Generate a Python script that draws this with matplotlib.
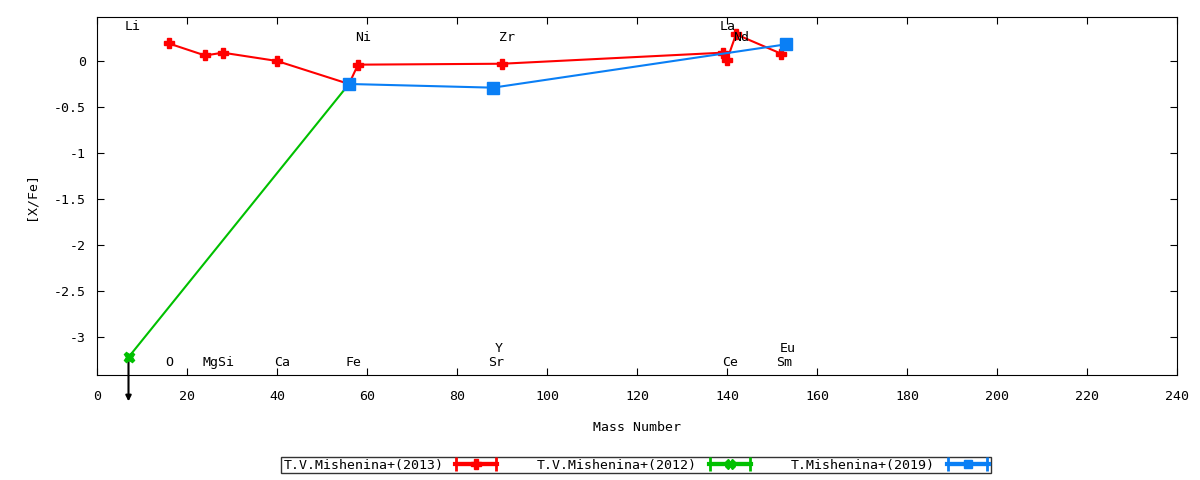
import matplotlib
matplotlib.use("Agg")
import matplotlib.pyplot as plt
from matplotlib.legend_handler import HandlerErrorbar
from matplotlib.container import ErrorbarContainer
import numpy as np

# Data
mass_2013 = [16, 24, 28, 40, 56, 58, 90, 139, 140, 142, 152]
xfe_2013 = [0.19, 0.06, 0.09, 0.0, -0.25, -0.04, -0.03, 0.09, 0.01, 0.29, 0.08]
mass_2012 = [7, 56]
xfe_2012 = [-3.22, -0.25]
mass_2019 = [56, 88, 153]
xfe_2019 = [-0.25, -0.29, 0.18]

labels_2013 = "T.V.Mishenina+(2013)"
labels_2012 = "T.V.Mishenina+(2012)"
labels_2019 = "T.Mishenina+(2019)"

# element annotations: (text, x, y)
elem_names = ["Li", "Ni", "Zr", "La", "Nd", "O", "MgSi", "Ca", "Fe", "Y", "Sr", "Ce", "Eu", "Sm"]
elem_x = [8, 59.1, 91.1, 140.2, 143.1, 16, 27, 41.1, 57.1, 89.3, 88.8, 140.8, 153.5, 152.6]
elem_y = [0.37, 0.26, 0.26, 0.37, 0.26, -3.28, -3.28, -3.28, -3.28, -3.13, -3.28, -3.28, -3.13, -3.28]

# upper-limit arrow for Li
arrow_x = 7
arrow_from = -3.22
arrow_to = -3.73

plt.rcParams['font.family'] = ['DejaVu Sans Mono']
fs = 9.5

fig = plt.figure(figsize=(12, 4.8), dpi=100)
ax = fig.add_axes([97/1200, 1 - 375/480, (1177-97)/1200, (375-17)/480])

RED = '#ff0000'
GREEN = '#00c000'
BLUE = '#0a7ff5'

ax.plot(mass_2013, xfe_2013, color=RED, lw=1.5, marker='P', ms=7, mec=RED, mfc=RED, zorder=3)
ax.plot(mass_2012, xfe_2012, color=GREEN, lw=1.5, marker='X', ms=7.5, mec=GREEN, mfc=GREEN, zorder=2)
ax.plot(mass_2019, xfe_2019, color=BLUE, lw=1.5, marker='s', ms=8, mec=BLUE, mfc=BLUE, zorder=4)

ax.annotate("", xy=(arrow_x, arrow_to), xytext=(arrow_x, arrow_from),
            arrowprops=dict(arrowstyle='-|>', color='black', lw=1.5, mutation_scale=8),
            annotation_clip=False, zorder=1)

for t, x, y in zip(elem_names, elem_x, elem_y):
    ax.text(x, y, t, ha='center', va='center', fontsize=fs)

ax.set_xlim(0, 240)
ax.set_ylim(-3.413, 0.478)
ax.set_xticks(np.arange(0, 241, 20))
ax.set_yticks([0, -0.5, -1, -1.5, -2, -2.5, -3])
ax.set_yticklabels(["0", "-0.5", "-1", "-1.5", "-2", "-2.5", "-3"])
ax.tick_params(direction='in', top=True, right=True, length=5, labelsize=fs, pad=8)
ax.tick_params(axis='x', pad=11)
ax.set_xlabel("Mass Number", fontsize=fs, labelpad=13)
ax.set_ylabel("[X/Fe]", fontsize=fs, labelpad=12)

# legend handles (errorbar style samples)
h1 = ax.errorbar([np.nan], [np.nan], xerr=[1], color=RED, lw=3, marker='P', ms=7, capsize=5, capthick=2, label=labels_2013)
h2 = ax.errorbar([np.nan], [np.nan], xerr=[1], color=GREEN, lw=3, marker='X', ms=7, capsize=5, capthick=2, label=labels_2012)
h3 = ax.errorbar([np.nan], [np.nan], xerr=[1], color=BLUE, lw=3, marker='s', ms=6, capsize=5, capthick=2, label=labels_2019)
leg = fig.legend(handles=[h1, h2, h3], loc='center', bbox_to_anchor=(636/1200, 1 - 465/480),
                 ncol=3, markerfirst=False, frameon=True, fancybox=False, fontsize=fs,
                 numpoints=1, handlelength=3.2, columnspacing=3.0, borderpad=0.15,
                 handletextpad=0.9,
                 handler_map={ErrorbarContainer: HandlerErrorbar(xerr_size=1.5)})
leg.get_frame().set_edgecolor('black')
leg.get_frame().set_linewidth(1)

fig.savefig("out.png", dpi=100)
